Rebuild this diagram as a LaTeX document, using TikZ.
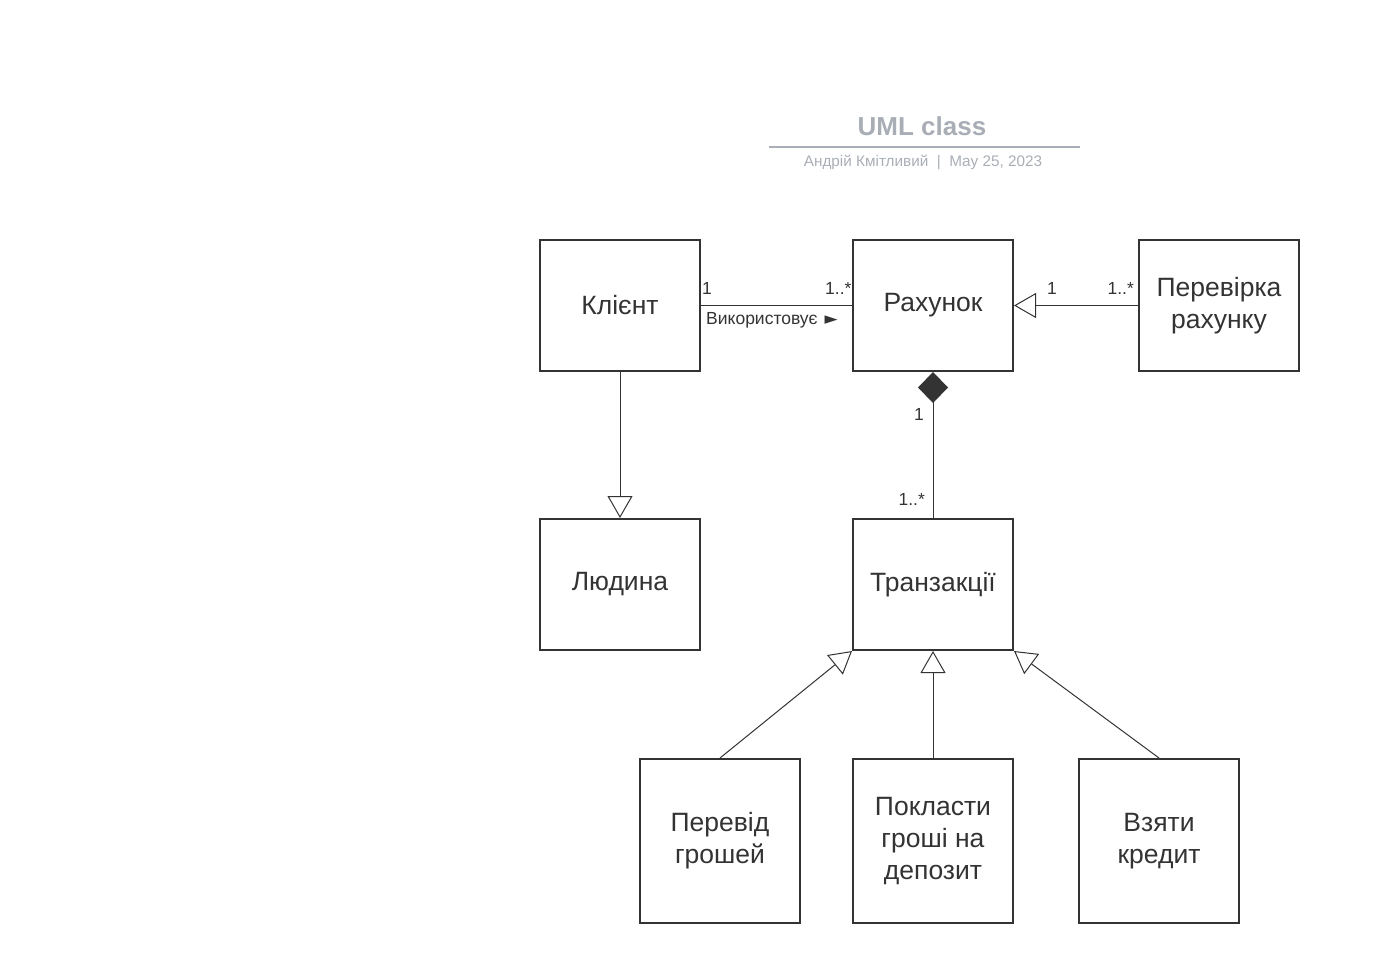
\documentclass[tikz,border=0pt]{standalone}
\usepackage{fontspec}
\setmainfont{Liberation Sans}
\newfontfamily\symfont{DejaVu Sans}
\usetikzlibrary{arrows.meta,positioning}
\definecolor{ink}{HTML}{333333}
\definecolor{titlegray}{HTML}{A9AEB6}
\tikzset{
  cls/.style={draw=ink, line width=2pt, minimum width=160pt, minimum height=131pt,
    align=center, text=ink, font=\fontsize{26.5}{32}\selectfont, inner sep=0pt},
  tallcls/.style={cls, minimum height=164pt},
  link/.style={draw=ink, line width=1pt},
  gen/.style={link, -{Triangle[open, width=25pt, length=22pt]}},
  comp/.style={link, {Diamond[width=30pt, length=31pt, fill=ink]}-},
  mult/.style={text=ink, font=\fontsize{17.5}{21}\selectfont, inner sep=0pt},
}
\begin{document}
\begin{tikzpicture}[x=1pt, y=-1pt]
  \useasboundingbox (0,0) rectangle (1387,963);
  % title block
  \node[text=titlegray, font=\bfseries\fontsize{26}{31}\selectfont] (title) at (922,126) {UML class};
  \coordinate (rulel) at (769,147);
  \coordinate (ruler) at (1080,147);
  \draw[titlegray, line width=2pt] (rulel) -- (ruler);
  \node[text=titlegray, font=\fontsize{15.3}{18}\selectfont] (sub) at (923,162) {Андрій Кмітливий \ | \ May 25, 2023};
  % classes
  \node[cls] (klient) at (620,305.5) {Клієнт};
  \node[cls] (rakh) at (933,305.5) {Рахунок};
  \node[cls] (perev) at (1219,305.5) {Перевірка\\рахунку};
  \node[cls] (lyud) at (620,584.5) {Людина};
  \node[cls] (tranz) at (933,584.5) {Транзакції};
  \node[tallcls] (pgr) at (720,841) {Перевід\\грошей};
  \node[tallcls] (depo) at (933,841) {Покласти\\гроші на\\депозит};
  \node[tallcls] (kred) at (1159,841) {Взяти\\кредит};
  % connectors
  \draw[link] (klient.east) -- (rakh.west);
  \draw[gen] (perev.west) -- (rakh.east);
  \draw[comp] (rakh.south) -- (tranz.north);
  \draw[gen] (klient.south) -- (lyud.north);
  \draw[gen] (pgr.north) -- (tranz.south west);
  \draw[gen] (depo.north) -- (tranz.south);
  \draw[gen] (kred.north) -- (tranz.south east);
  % multiplicities
  \node[mult, anchor=base west] (m1) at ([xshift=1pt, yshift=11pt]klient.east) {1};
  \node[mult, anchor=base west] (m2) at ([xshift=-27pt, yshift=11pt]rakh.west) {1..*};
  \node[mult, anchor=base west] (uses) at ([xshift=5pt, yshift=-18.5pt]klient.east) {Використовує\hspace{7pt}{\symfont\fontsize{17}{20}\selectfont ►}};
  \node[mult, anchor=base west] (m3) at ([xshift=33pt, yshift=11pt]rakh.east) {1};
  \node[mult, anchor=base east] (m4) at ([xshift=-4pt, yshift=11pt]perev.west) {1..*};
  \node[mult, anchor=base east] (m5) at ([xshift=-9pt, yshift=-48pt]rakh.south) {1};
  \node[mult, anchor=base east] (m6) at ([xshift=-8pt, yshift=13pt]tranz.north) {1..*};
\end{tikzpicture}
\end{document}
